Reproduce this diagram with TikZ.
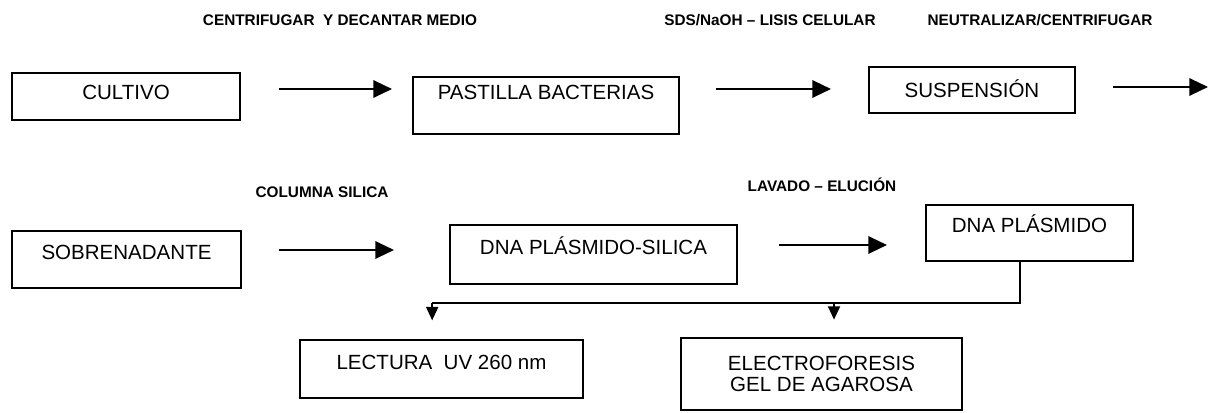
\documentclass[tikz,border=0pt]{standalone}
\usepackage{fontspec}
\setmainfont{Liberation Sans}
\usetikzlibrary{arrows.meta,calc}
\begin{document}
\begin{tikzpicture}[x=0.75pt,y=-0.75pt,
  box/.style={draw, line width=1.5pt, inner sep=0pt,
    font=\fontsize{15.4}{18}\selectfont, text height=11pt},
  lbl/.style={font=\bfseries\fontsize{11.5}{13}\selectfont, inner sep=0pt,
    text height=8.2pt, text depth=0pt},
  arr/.style={line width=1.6pt, -{Triangle[length=14pt,width=13pt]}},
  ln/.style={line width=1.3pt},
  arrs/.style={-{Triangle[length=10pt,width=9pt]}}]
\useasboundingbox (0,0) rectangle (1215,413);
\fill[white] (0,0) rectangle (1215,413);

% row 1
\node[box, minimum width=171pt, minimum height=35.25pt, text depth=5.8pt] (cultivo) at (126,96.5) {CULTIVO};
\node[box, minimum width=199.5pt, minimum height=42.75pt, text depth=19.3pt] (pastilla) at (546,105.5) {PASTILLA BACTERIAS};
\node[box, minimum width=154.5pt, minimum height=34.5pt, text depth=0pt] (suspension) at (972,90) {SUSPENSIÓN};

% row 2
\node[box, minimum width=171.75pt, minimum height=42.75pt, text depth=10.3pt] (sobrenadante) at (126.5,259.5) {SOBRENADANTE};
\node[box, minimum width=215.25pt, minimum height=44.25pt, text depth=10.3pt] (silica) at (593.5,254.5) {DNA PLÁSMIDO-SILICA};
\node[box, minimum width=155.25pt, minimum height=42pt, text depth=11pt] (dnaplasmido) at (1029.5,233) {DNA PLÁSMIDO};

% row 3
\node[box, minimum width=212.25pt, minimum height=43.5pt, text depth=9.5pt] (lectura) at (441.5,369) {LECTURA\ \ UV 260 nm};
\node[box, minimum width=210.75pt, minimum height=54pt, text height=, text depth=, align=center,
  font=\fontsize{15.4}{16}\selectfont] (electro) at (821.5,374) {ELECTROFORESIS\\GEL DE AGAROSA};

% labels
\node[lbl] (l1) at (340,20) {CENTRIFUGAR\ \ Y DECANTAR MEDIO};
\node[lbl] (l2) at (770,20) {SDS/NaOH – LISIS CELULAR};
\node[lbl] (l3) at (1040,20) {NEUTRALIZAR/CENTRIFUGAR};
\node[lbl] (l4) at (322,192) {COLUMNA SILICA};
\node[lbl] (l5) at (822,186) {LAVADO – ELUCIÓN};

% row arrows
\coordinate (r1) at (0,89);
\coordinate (e3) at (1208,87);
\coordinate (r4) at (0,250);
\coordinate (r5) at (0,245);
\draw[arr, shorten <=28.5pt, shorten >=15pt] (cultivo.east |- r1) -- (pastilla.west |- r1);
\draw[arr, shorten <=27pt, shorten >=27.75pt] (pastilla.east |- r1) -- (suspension.west |- r1);
\draw[arr, shorten <=27.75pt] (suspension.east |- e3) -- (e3);
\draw[arr, shorten <=27.75pt, shorten >=41.25pt] (sobrenadante.east |- r4) -- (silica.west |- r4);
\draw[arr, shorten <=30.75pt, shorten >=28.5pt] (silica.east |- r5) -- (dnaplasmido.west |- r5);

% branching
\coordinate (bus) at (0,303);
\coordinate (b1) at ([xshift=-7pt]lectura.north |- bus);
\coordinate (b2) at ([xshift=9.4pt]electro.north |- bus);
\draw[ln] ([xshift=-7pt]dnaplasmido.south) |- (b1);
\draw[ln, arrs, shorten >=14pt] (b1) -- (b1 |- lectura.north);
\draw[ln, arrs, shorten >=13pt] (b2) -- (b2 |- electro.north);
\end{tikzpicture}
\end{document}
